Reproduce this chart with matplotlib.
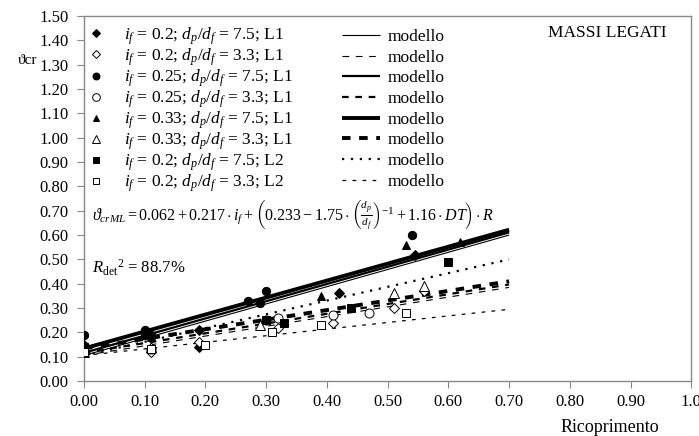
import numpy as np
import matplotlib
matplotlib.use("Agg")
import matplotlib.pyplot as plt
from matplotlib.lines import Line2D

plt.rcParams['font.family'] = ['Liberation Serif', 'DejaVu Serif']
plt.rcParams['mathtext.fontset'] = 'custom'
plt.rcParams['mathtext.rm'] = 'Liberation Serif'
plt.rcParams['mathtext.it'] = 'Liberation Serif:italic'
plt.rcParams['mathtext.bf'] = 'Liberation Serif:bold'

# ---- data ----
series_labels = [
    r"$i_f$ = 0.2; $d_p/d_f$ = 7.5; L1",
    r"$i_f$ = 0.2; $d_p/d_f$ = 3.3; L1",
    r"$i_f$ = 0.25; $d_p/d_f$ = 7.5; L1",
    r"$i_f$ = 0.25; $d_p/d_f$ = 3.3; L1",
    r"$i_f$ = 0.33; $d_p/d_f$ = 7.5; L1",
    r"$i_f$ = 0.33; $d_p/d_f$ = 3.3; L1",
    r"$i_f$ = 0.2; $d_p/d_f$ = 7.5; L2",
    r"$i_f$ = 0.2; $d_p/d_f$ = 3.3; L2",
]

# measured points (Ricoprimento, theta_cr)
x_d75 = [0.00, 0.10, 0.19, 0.19, 0.42, 0.545]
y_d75 = [0.15, 0.20, 0.14, 0.21, 0.36, 0.52]
x_d33 = [0.00, 0.11, 0.19, 0.32, 0.41, 0.51, 0.56]
y_d33 = [0.12, 0.12, 0.16, 0.22, 0.24, 0.30, 0.37]
x_c75 = [0.00, 0.10, 0.11, 0.27, 0.29, 0.30, 0.54]
y_c75 = [0.19, 0.21, 0.19, 0.33, 0.32, 0.37, 0.60]
x_c33 = [0.00, 0.11, 0.30, 0.32, 0.41, 0.47]
y_c33 = [0.12, 0.13, 0.25, 0.26, 0.27, 0.28]
x_t75 = [0.00, 0.11, 0.30, 0.39, 0.53, 0.62]
y_t75 = [0.13, 0.18, 0.25, 0.35, 0.56, 0.57]
x_t33 = [0.00, 0.11, 0.29, 0.51, 0.56]
y_t33 = [0.12, 0.14, 0.23, 0.36, 0.39]
x_s75 = [0.00, 0.10, 0.30, 0.33, 0.44, 0.60]
y_s75 = [0.14, 0.19, 0.25, 0.24, 0.30, 0.49]
x_s33 = [0.00, 0.11, 0.20, 0.31, 0.39, 0.53]
y_s33 = [0.12, 0.13, 0.15, 0.20, 0.23, 0.28]

points_x = [x_d75, x_d33, x_c75, x_c33, x_t75, x_t33, x_s75, x_s33]
points_y = [y_d75, y_d33, y_c75, y_c33, y_t75, y_t33, y_s75, y_s33]

# model lines: value at start and end of the covered range
model_x = [0.0, 0.70]
model_y = [
    [0.105, 0.600],
    [0.105, 0.385],
    [0.116, 0.611],
    [0.116, 0.397],
    [0.134, 0.622],
    [0.134, 0.410],
    [0.105, 0.500],
    [0.105, 0.295],
]

# ---- styles ----
markers = ['D', 'D', 'o', 'o', '^', '^', 's', 's']
filled = [True, False, True, False, True, False, True, False]
msizes = [5, 5.5, 6, 6.5, 6, 6.5, 5.5, 6]
line_w = [0.8, 0.8, 1.6, 1.6, 2.8, 2.8, 1.6, 0.9]
line_dash = [None, (6, 6), None, (3, 3), None, (2.2, 2.2), (1, 3), (3, 5)]

fig = plt.figure(figsize=(6.99, 4.36), dpi=100)
ax = fig.add_axes([0.120, 0.126, 0.869, 0.837])

line_handles = []
for i in range(8):
    ls = '-' if line_dash[i] is None else (0, line_dash[i])
    ax.plot(model_x, model_y[i], color='black', lw=line_w[i], linestyle=ls,
            solid_capstyle='butt', dash_capstyle='butt', zorder=2)
    line_handles.append(Line2D([], [], color='black', lw=line_w[i], linestyle=ls,
                               dash_capstyle='butt', solid_capstyle='butt'))

marker_handles = []
for i in range(8):
    fc = 'black' if filled[i] else 'white'
    ax.plot(points_x[i], points_y[i], linestyle='none', marker=markers[i],
            ms=msizes[i], mfc=fc, mec='black', mew=0.7, zorder=3)
    marker_handles.append(Line2D([], [], linestyle='none', marker=markers[i],
                                 ms=msizes[i] - 1, mfc=fc, mec='black', mew=0.7))

ax.set_xlim(0, 1.0)
ax.set_ylim(0, 1.5)
ax.set_xticks(np.arange(0, 1.01, 0.1))
ax.set_yticks(np.arange(0, 1.51, 0.1))
ax.set_xticklabels(["%.2f" % v for v in np.arange(0, 0.95, 0.1)] + ["1.0"])
ax.set_yticklabels(["%.2f" % v for v in np.arange(0, 1.51, 0.1)])
ax.tick_params(labelsize=12, direction='out', length=5, color='#888888')
ax.tick_params(axis='y', pad=6)
ax.tick_params(axis='x', pad=4)
for sp in ax.spines.values():
    sp.set_color('#888888')
    sp.set_linewidth(1.0)

leg1 = ax.legend(marker_handles, series_labels, loc='upper left',
                 bbox_to_anchor=(0.003, 0.975), frameon=False, fontsize=12.5,
                 handlelength=1.2, handletextpad=1.0, labelspacing=-0.03,
                 borderpad=0, borderaxespad=0)
ax.add_artist(leg1)
ax.legend(line_handles, ["modello"] * 8, loc='upper left',
          bbox_to_anchor=(0.425, 0.965), frameon=False, fontsize=12.5,
          handlelength=2.2, handletextpad=0.4, labelspacing=0.26,
          borderpad=0, borderaxespad=0)

ax.text(0.959, 0.955, "MASSI LEGATI", transform=ax.transAxes, ha='right',
        va='center', fontsize=12.5)

eq = (r"$\vartheta_{crML} = 0.062 + 0.217\cdot i_f + "
      r"\left(0.233 - 1.75\cdot\left(\frac{d_p}{d_f}\right)^{-1}"
      r" + 1.16\cdot DT\right)\cdot R$")
fig.text(92 / 699, 1 - 215 / 436, eq, ha='left', va='center', fontsize=11.5)
fig.text(92 / 699, 1 - 268 / 436, r"$R_{\mathrm{det}}{}^{2}$ = 88.7%",
         ha='left', va='center', fontsize=12)

fig.text(18 / 699, 1 - 60 / 436, "ϑcr", ha='left', va='center', fontsize=11)
fig.text(610 / 699, 1 - 427 / 436, "Ricoprimento", ha='center', va='center',
         fontsize=13)

fig.savefig("out.png", dpi=100)
